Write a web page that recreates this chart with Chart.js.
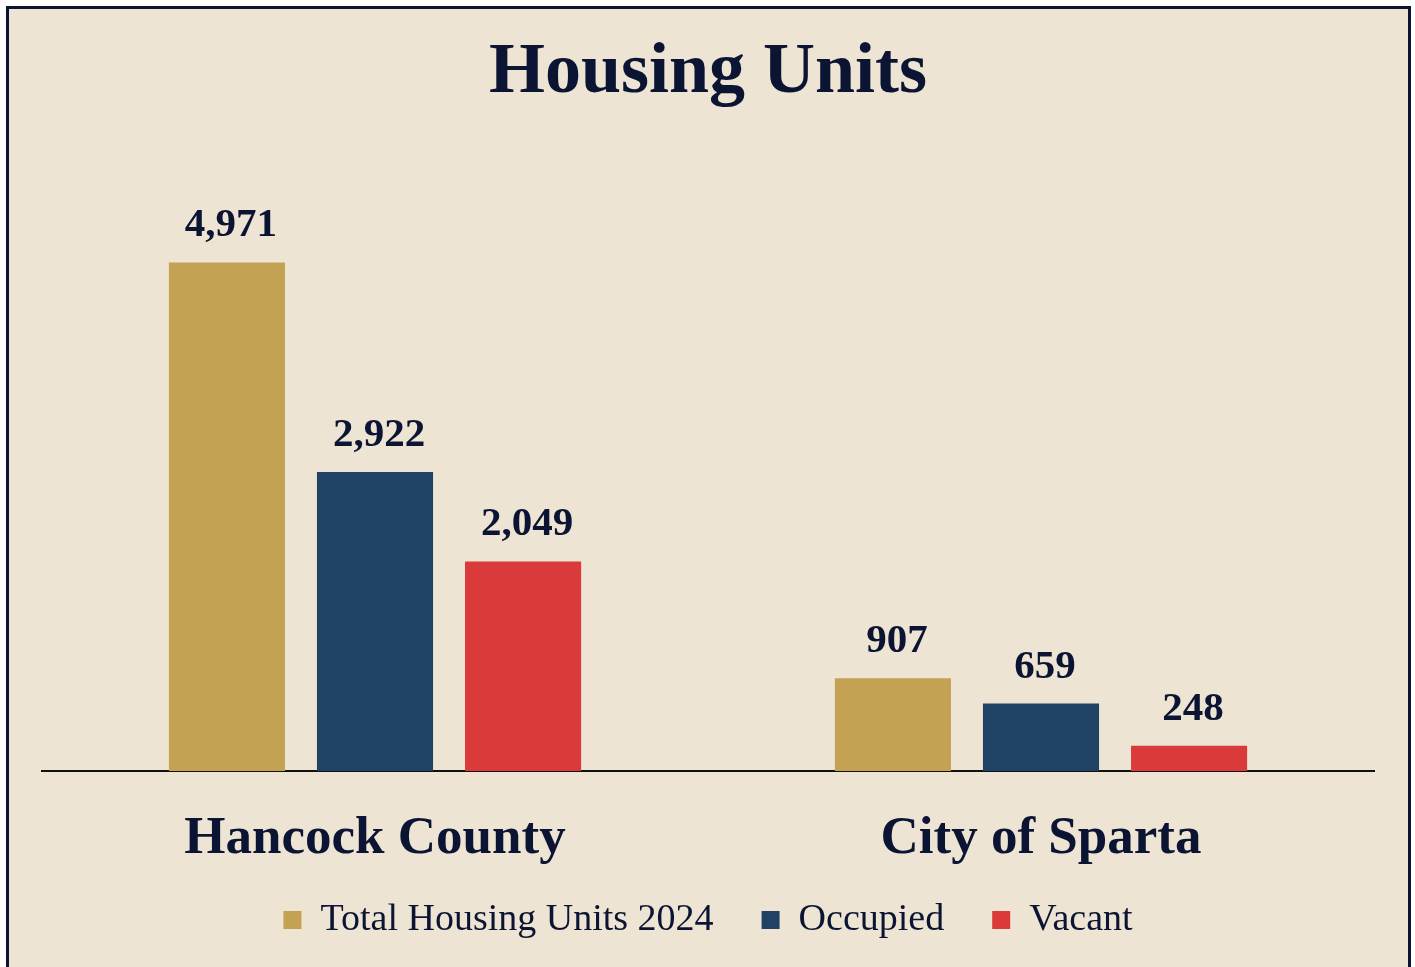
<!DOCTYPE html>
<html>
<head>
<meta charset="utf-8">
<script src="https://cdn.jsdelivr.net/npm/chart.js@4"></script>
<style>
  html, body { margin: 0; padding: 0; background: #ffffff; overflow: hidden; }
  #frame {
    position: absolute; left: 6px; top: 6px; width: 1399px; height: 1000px;
    background: #eee4d3; border: 3px solid #0b1533;
  }
  #wrap { position: absolute; left: 0; top: 0; width: 1415px; height: 967px; }
</style>
</head>
<body>
<div id="frame"></div>
<div id="wrap"><canvas id="housingChart"></canvas></div>
<script>
const categories = ["Hancock County", "City of Sparta"];
const seriesNames = ["Total Housing Units 2024", "Occupied", "Vacant"];
const totalUnits = [4971, 907];
const occupied = [2922, 659];
const vacant = [2049, 248];
const colors = ["#c4a254", "#1f4265", "#db3a3a"];
const ink = "#0b1533";
const serif = "'Liberation Serif', 'Times New Roman', serif";

// value labels above bars
const valueLabels = {
  id: "valueLabels",
  afterDatasetsDraw(chart) {
    const ctx = chart.ctx;
    ctx.save();
    ctx.font = "bold 41px " + serif;
    ctx.fillStyle = ink;
    ctx.textAlign = "center";
    ctx.textBaseline = "alphabetic";
    chart.data.datasets.forEach((ds, i) => {
      chart.getDatasetMeta(i).data.forEach((bar, j) => {
        ctx.fillText(ds.data[j].toLocaleString("en-US"), bar.x + 4, bar.y - 26);
      });
    });
    ctx.restore();
  }
};

// the x axis box is kept short so the legend sits close; let its labels draw past it
const looseAxisLabels = {
  id: "looseAxisLabels",
  afterLayout(chart) {
    chart.scales.x.bottom += 40;
  }
};

document.addEventListener("DOMContentLoaded", () => {
  const ctx = document.getElementById("housingChart");
  new Chart(ctx, {
    type: "bar",
    data: {
      labels: categories,
      datasets: [
        { label: seriesNames[0], data: totalUnits, backgroundColor: colors[0] },
        { label: seriesNames[1], data: occupied, backgroundColor: colors[1] },
        { label: seriesNames[2], data: vacant, backgroundColor: colors[2] }
      ]
    },
    options: {
      responsive: true,
      maintainAspectRatio: false,
      animation: false,
      categoryPercentage: 0.667,
      barPercentage: 0.784,
      layout: { padding: { left: 42, right: 41, top: 0, bottom: 18 } },
      plugins: {
        title: {
          display: true,
          text: "Housing Units",
          color: ink,
          font: { family: serif, size: 72, weight: "bold", lineHeight: 1.2 },
          padding: { top: 30, bottom: 62 }
        },
        legend: {
          position: "bottom",
          labels: {
            color: ink,
            font: { family: serif, size: 38 },
            boxWidth: 18,
            boxHeight: 18,
            padding: 48
          }
        },
        tooltip: { enabled: false }
      },
      scales: {
        x: {
          grid: { display: false },
          border: { display: true, color: "#111111", width: 2 },
          ticks: { color: ink, font: { family: serif, size: 53, weight: "bold" }, padding: 29 },
          afterFit(scale) { scale.height = 82; }
        },
        y: {
          display: false,
          beginAtZero: true,
          max: 5793
        }
      }
    },
    plugins: [valueLabels, looseAxisLabels]
  });
});
</script>
</body>
</html>
